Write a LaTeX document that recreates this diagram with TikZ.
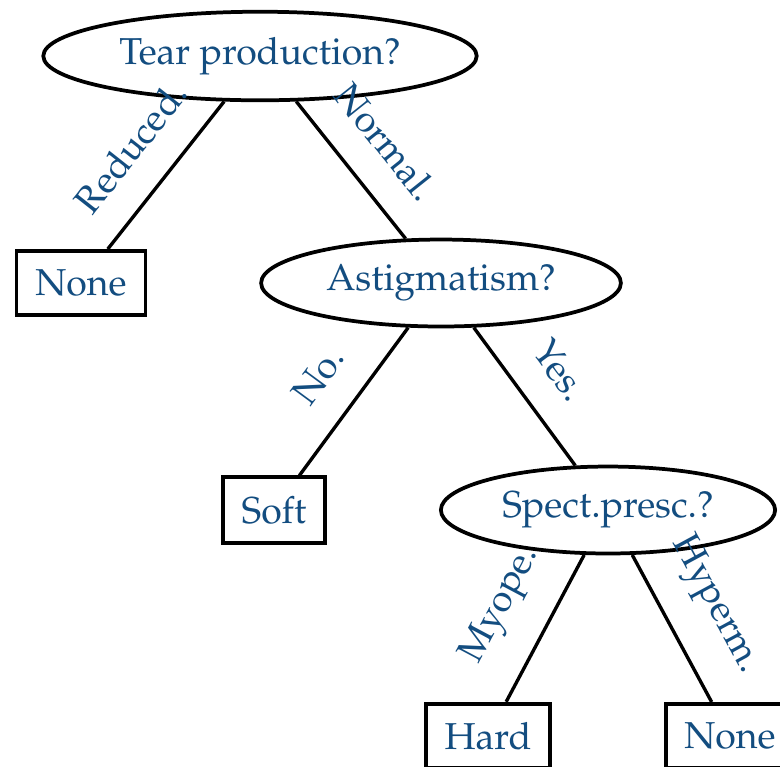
\documentclass[tikz,border=0pt]{standalone}
\usepackage[T1]{fontenc}
\usepackage{mathpazo}
\usepackage{xcolor}
\usetikzlibrary{shapes.geometric}
\definecolor{labelblue}{HTML}{134D80}
\tikzset{
  question/.style={draw, ellipse, line width=1pt, text=labelblue},
  leaf/.style={draw, rectangle, line width=1pt, inner sep=5pt, text=labelblue},
  branch/.style={midway, sloped, above=4.5pt, text=labelblue},
  edge/.style={line width=0.9pt}
}

\begin{document}
\begin{tikzpicture}[x=0.267pt, y=-0.267pt]
  \useasboundingbox (0,0) rectangle (780,766);
  % decision nodes
  \node[question] (tear)  at (260,56)  {Tear production?};
  \node[question] (astig) at (441,283) {Astigmatism?};
  \node[question] (spect) at (608,510) {Spect.presc.?};
  % leaves
  \node[leaf] (none1) at (81,283)  {None};
  \node[leaf] (soft)  at (274,510) {Soft};
  \node[leaf] (hard)  at (488,736) {Hard};
  \node[leaf] (none2) at (730,736) {None};
  % branches
  \draw[edge] (tear) -- node[branch] {Reduced.} (none1);
  \draw[edge] (tear) -- node[branch] {Normal.} (astig);
  \draw[edge] (astig) -- node[branch] {No.} (soft);
  \draw[edge] (astig) -- node[branch] {Yes.} (spect);
  \draw[edge] (spect) -- node[branch] {Myope.} (hard);
  \draw[edge] (spect) -- node[branch] {Hyperm.} (none2);
\end{tikzpicture}
\end{document}
